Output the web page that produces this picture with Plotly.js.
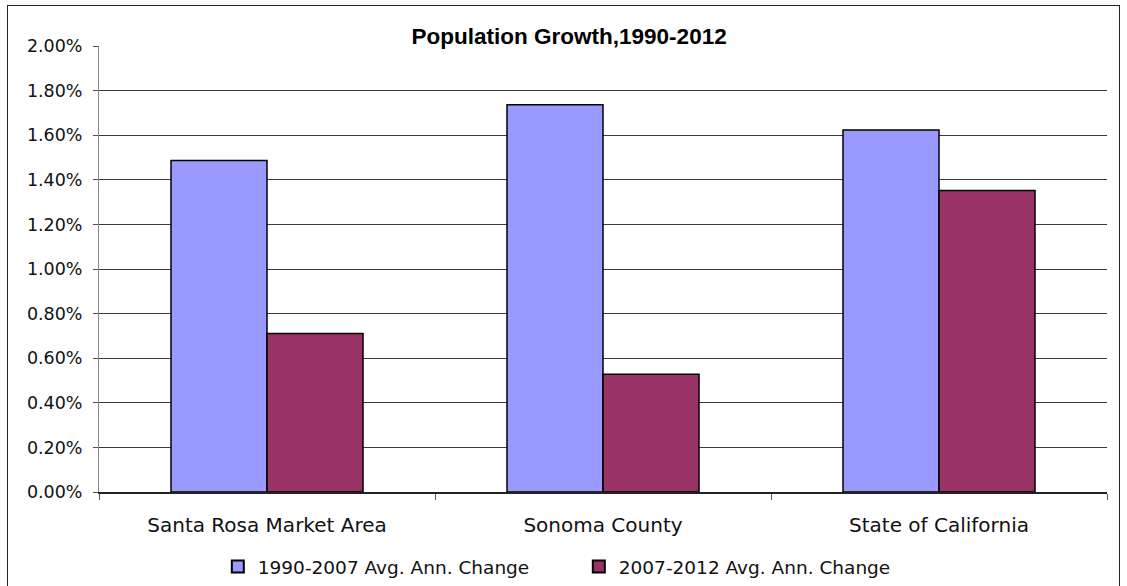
<!DOCTYPE html>
<html>
<head>
<meta charset="utf-8">
<script src="https://cdn.plot.ly/plotly-3.0.1.min.js"></script>
<style>
html,body{margin:0;padding:0;background:#fff;}
#wrap{position:relative;width:1127px;height:586px;}
#chart{width:1127px;height:586px;}
#frame{position:absolute;left:7px;top:5px;width:1113px;height:600px;border:1.5px solid #222;box-sizing:border-box;pointer-events:none;}
</style>
</head>
<body>
<div id="wrap"><div id="chart"></div><div id="frame"></div></div>
<script>
var categories = ["Santa Rosa Market Area", "Sonoma County", "State of California"];
var seriesNames = ["1990-2007 Avg. Ann. Change", "2007-2012 Avg. Ann. Change"];
var change1990_2007 = [0.01487, 0.01737, 0.01623];
var change2007_2012 = [0.00711, 0.00528, 0.01352];
var yTickVals = [0, 0.002, 0.004, 0.006, 0.008, 0.010, 0.012, 0.014, 0.016, 0.018, 0.020];

var tickFont = {family: "DejaVu Sans, sans-serif", size: 17.5, color: "#111"};
var catFont = {family: "DejaVu Sans, sans-serif", size: 20, color: "#111"};
var legFont = {family: "DejaVu Sans, sans-serif", size: 18.5, color: "#111"};

var traces = [
  {type: "bar", name: seriesNames[0], x: categories, y: change1990_2007,
   marker: {color: "#9999FF", line: {color: "#000", width: 1.5}}},
  {type: "bar", name: seriesNames[1], x: categories, y: change2007_2012,
   marker: {color: "#993366", line: {color: "#000", width: 1.5}}}
];

var layout = {
  width: 1127, height: 586,
  margin: {l: 99, r: 20, t: 46, b: 94, autoexpand: false},
  paper_bgcolor: "#fff", plot_bgcolor: "#fff",
  barmode: "group", bargap: 0.4286, bargroupgap: 0,
  title: {text: "<b>Population Growth,1990-2012</b>", font: {family: "Liberation Sans, Arial, sans-serif", size: 22.5, color: "#000"},
          x: 0.505, xanchor: "center", y: 0.938, yanchor: "middle"},
  xaxis: {type: "category", tickson: "boundaries", ticks: "outside", ticklen: 6, tickcolor: "#555",
          showline: true, linecolor: "#222", linewidth: 1.5, tickfont: catFont, ticklabelstandoff: 14,
          showgrid: false, fixedrange: true, automargin: false},
  yaxis: {range: [0, 0.02], tickvals: yTickVals, tickformat: ".2%", ticks: "outside", ticklen: 5, tickcolor: "#555",
          showline: true, linecolor: "#888", linewidth: 1, showgrid: true, gridcolor: "#3a3a3a", gridwidth: 1,
          zeroline: false, tickfont: tickFont, ticklabelstandoff: 7, fixedrange: true, automargin: false},
  showlegend: true,
  legend: {orientation: "h", x: 0.476, xanchor: "center", y: -0.168, yanchor: "middle", font: legFont,
           itemsizing: "constant", entrywidth: 316, entrywidthmode: "pixels"},
  hovermode: false
};

Plotly.newPlot("chart", traces, layout, {displayModeBar: false, staticPlot: true});
</script>
</body>
</html>
